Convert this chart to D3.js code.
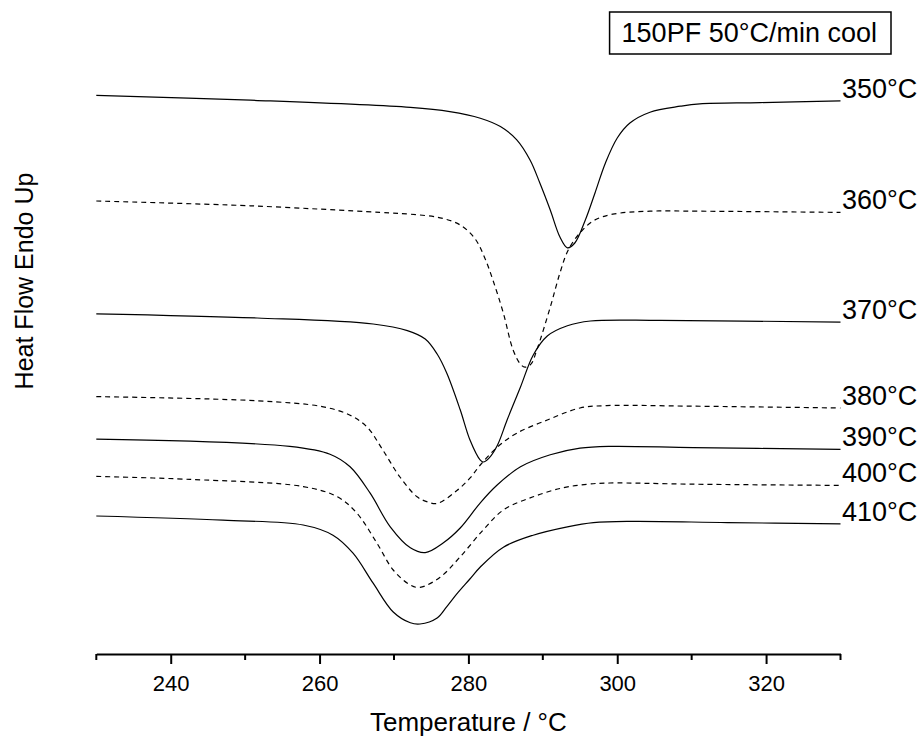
<!DOCTYPE html>
<html>
<head>
<meta charset="utf-8">
<script src="https://cdn.jsdelivr.net/npm/d3@7"></script>
<style>
  body { margin: 0; background: #fff; }
  text { font-family: Arial, "Liberation Sans", sans-serif; fill: #000; }
</style>
</head>
<body>
<div id="chart"></div>
<script>
// DSC cooling curves (temperature in degC, heat flow in arb. units)
var run350 = [[230,93.1],[250.7,92.3],[272.2,91.1],[277.5,90.4],[281.6,89.3],[284.3,87.9],[286.5,85.7],[288.3,82.3],[289.6,78.5],[291.0,74.0],[292.3,69.5],[293.3,67.7],[294.3,68.5],[295.7,72.3],[297.0,76.8],[298.4,81.8],[300.0,86.0],[301.7,88.5],[304.4,90.3],[308.5,91.3],[311.1,91.7],[319.2,91.9],[330,92.2]];
var run360 = [[230,75.5],[250.7,74.7],[268.1,73.6],[272.2,73.3],[276.2,72.7],[278.9,71.5],[280.9,69.2],[282.2,66.0],[283.3,62.3],[284.7,56.8],[286.0,50.7],[287.0,48.3],[287.6,47.8],[288.4,48.3],[289.2,50.7],[291.0,57.8],[292.3,63.5],[293.4,67.3],[295.0,70.2],[296.8,72.2],[299.4,73.3],[304.4,73.8],[311.1,73.8],[330,73.6]];
var run370 = [[230,56.7],[251.6,56.0],[267.2,55.0],[271.8,53.9],[274.2,52.5],[275.8,50.0],[277.1,46.8],[278.9,40.7],[280.2,35.7],[281.6,32.3],[282.0,32.0],[282.8,32.7],[283.9,34.8],[285.2,39.0],[287.0,44.5],[288.7,49.8],[290.6,53.0],[293.3,54.7],[296.4,55.5],[305.8,55.6],[330,55.3]];
var run380 = [[230,42.9],[251.6,42.2],[260.5,41.2],[264.1,39.8],[266.4,37.8],[268.5,34.0],[270.8,29.5],[273.1,26.2],[274.4,25.4],[275.8,25.1],[278.5,27.3],[280.2,29.3],[281.6,31.5],[283.9,34.5],[286.5,36.8],[290.6,39.0],[295.0,41.0],[298.6,41.4],[310.2,41.3],[330,41.0]];
var run390 = [[230,35.8],[256.0,34.6],[261.4,33.3],[264.1,31.2],[266.8,26.8],[269.5,21.2],[272.2,17.7],[274.2,16.9],[276.6,18.5],[278.9,21.0],[281.6,25.2],[283.9,28.2],[287.0,31.2],[291.0,33.2],[295.0,34.3],[299.0,34.6],[310.2,34.4],[330,34.1]];
var run400 = [[230,29.6],[242.6,29.1],[257.8,27.9],[262.4,26.2],[265.0,23.5],[267.7,18.5],[269.9,14.0],[272.2,11.5],[273.5,11.1],[276.2,12.8],[278.9,16.2],[282.0,20.7],[284.7,24.0],[288.7,26.2],[292.7,27.7],[296.0,28.3],[299.0,28.5],[310.2,28.3],[330,28.1]];
var run410 = [[230,23.0],[247.0,22.3],[257.8,21.5],[261.8,19.8],[264.5,16.8],[267.2,11.8],[269.9,7.0],[272.2,5.2],[273.5,5.0],[275.8,6.0],[277.1,7.9],[278.5,10.1],[280.2,12.5],[281.6,14.5],[284.7,17.8],[288.7,19.8],[293.3,21.2],[296.8,21.9],[302.1,22.1],[314.8,21.9],[330,21.7]];

var runs = [run350, run360, run370, run380, run390, run400, run410];
var runLabels = ['350°C', '360°C', '370°C', '380°C', '390°C', '400°C', '410°C'];
var runDashed = [false, true, false, true, false, true, false];

var majorTicks = [240, 260, 280, 300, 320];
var minorTicks = [230, 250, 270, 290, 310, 330];

var titleText = '150PF 50°C/min cool';
var xTitle = 'Temperature / °C';
var yTitle = 'Heat Flow Endo Up';

var width = 924, height = 744;

var svg = d3.select('#chart').append('svg')
    .attr('width', width)
    .attr('height', height);

var x = d3.scaleLinear().domain([230, 330]).range([96.3, 840.5]);
var y = d3.scaleLinear().domain([0, 100]).range([654, 54]);

// x axis: major ticks with labels, minor ticks without
var xAxis = svg.append('g')
    .attr('transform', 'translate(0,654)')
    .call(d3.axisBottom(x).tickValues(majorTicks).tickSize(10).tickSizeOuter(0).tickPadding(11));
xAxis.select('.domain').attr('stroke', '#000').attr('stroke-width', 2);
xAxis.selectAll('.tick line').attr('stroke', '#000').attr('stroke-width', 2);
xAxis.selectAll('.tick text').style('font-size', '22px').style('font-family', 'Arial, "Liberation Sans", sans-serif');

svg.append('g').selectAll('line')
    .data(minorTicks)
    .enter()
    .append('line')
    .attr('x1', d => x(d)).attr('x2', d => x(d))
    .attr('y1', 654).attr('y2', 660)
    .attr('stroke', '#000')
    .attr('stroke-width', 2);

// curves
var line = d3.line()
    .x(d => x(d[0]))
    .y(d => y(d[1]))
    .curve(d3.curveCatmullRom.alpha(0.5));

svg.append('g').selectAll('path')
    .data(runs)
    .enter()
    .append('path')
    .attr('d', line)
    .attr('fill', 'none')
    .attr('stroke', '#000')
    .attr('stroke-width', 1.2)
    .attr('stroke-dasharray', (d, i) => runDashed[i] ? '5,4' : null);

// run labels at the right end of each curve
svg.append('g').selectAll('text')
    .data(runs)
    .enter()
    .append('text')
    .attr('x', 842)
    .attr('y', d => y(d[d.length - 1][1]) - 3)
    .style('font-size', '27px')
    .text((d, i) => runLabels[i]);

// axis titles
svg.append('text')
    .attr('x', x(280))
    .attr('y', 731)
    .attr('text-anchor', 'middle')
    .style('font-size', '26px')
    .text(xTitle);

svg.append('text')
    .attr('transform', 'translate(33,281) rotate(-90)')
    .attr('text-anchor', 'middle')
    .style('font-size', '25px')
    .text(yTitle);

// title box, top right
var titleG = svg.append('g');
var titleBox = titleG.append('rect');
var title = titleG.append('text')
    .attr('x', 877)
    .attr('y', 42)
    .attr('text-anchor', 'end')
    .style('font-size', '27px')
    .text(titleText);
var tw = title.node().getComputedTextLength();
titleBox
    .attr('x', 877 - tw - 12)
    .attr('y', 12)
    .attr('width', tw + 26)
    .attr('height', 42)
    .attr('fill', 'none')
    .attr('stroke', '#000')
    .attr('stroke-width', 1.5);
</script>
</body>
</html>
